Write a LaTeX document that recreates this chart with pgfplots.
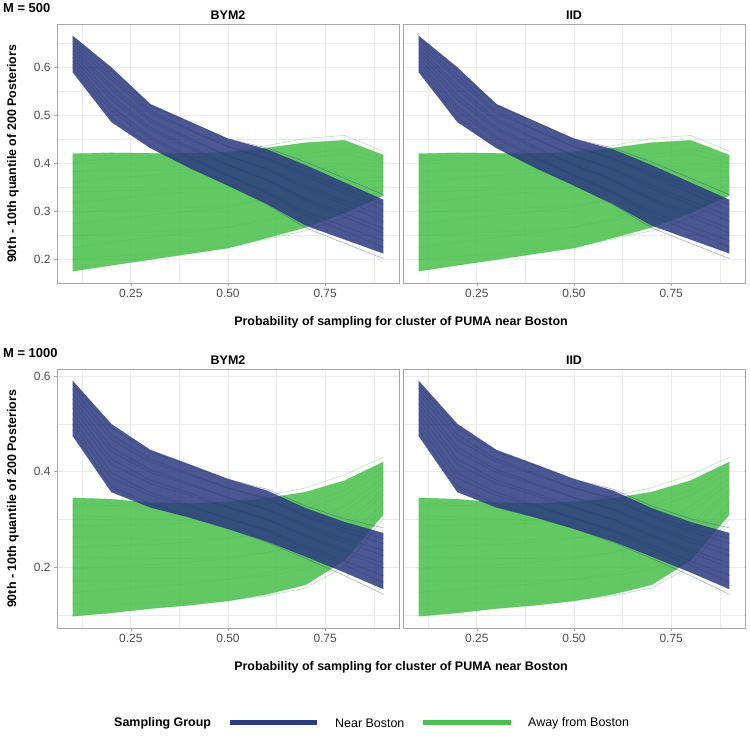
\documentclass[border=0pt]{standalone}
\usepackage{fontspec}
\setmainfont{Liberation Sans}
\usepackage{pgfplots}
\pgfplotsset{compat=1.18}
\usepackage{pgfplotstable}
\usepgfplotslibrary{fillbetween}

\definecolor{nearc}{HTML}{2C3B7F}
\definecolor{awayc}{HTML}{4CC04F}
\definecolor{grid92}{HTML}{EBEBEB}
\definecolor{framec}{HTML}{A6A6A6}
\definecolor{tick30}{HTML}{4D4D4D}

% M = 500, near Boston
\pgfplotstableread{
x l1 l2 l3 l4 l5 l6 l7 l8 l9 l10 l11 l12
0.1 .590 .598 .605 .613 .620 .628 .634 .640 .647 .654 .660 .665
0.2 .486 .495 .509 .518 .532 .541 .553 .561 .574 .582 .593 .599
0.3 .432 .437 .451 .456 .470 .475 .487 .492 .504 .509 .520 .523
0.4 .391 .394 .411 .414 .431 .435 .450 .453 .469 .471 .486 .487
0.5 .354 .355 .375 .375 .396 .397 .415 .416 .434 .435 .451 .451
0.6 .316 .315 .341 .338 .366 .365 .389 .387 .411 .409 .432 .429
0.7 .271 .266 .299 .292 .327 .323 .354 .348 .379 .374 .403 .396
0.8 .242 .234 .269 .259 .296 .289 .322 .314 .347 .338 .369 .360
0.9 .213 .202 .239 .226 .265 .255 .290 .279 .314 .303 .335 .324
}\tna
% M = 500, away from Boston
\pgfplotstableread{
x l1 l2 l3 l4 l5 l6 l7 l8 l9 l10 l11 l12
0.1 .176 .200 .225 .249 .274 .298 .318 .340 .361 .383 .403 .420
0.2 .188 .207 .236 .254 .283 .302 .326 .343 .369 .386 .410 .422
0.3 .200 .212 .246 .257 .292 .305 .334 .345 .375 .386 .414 .421
0.4 .212 .219 .256 .262 .300 .308 .341 .347 .381 .387 .418 .421
0.5 .224 .226 .267 .267 .309 .313 .350 .351 .389 .390 .424 .423
0.6 .245 .243 .287 .282 .327 .326 .365 .362 .403 .399 .437 .432
0.7 .267 .260 .307 .297 .346 .340 .383 .376 .419 .412 .452 .443
0.8 .297 .287 .332 .319 .366 .357 .399 .388 .430 .420 .458 .448
0.9 .333 .325 .353 .343 .372 .365 .391 .383 .409 .401 .425 .417
}\taa
% M = 1000, near Boston
\pgfplotstableread{
x l1 l2 l3 l4 l5 l6 l7 l8 l9 l10 l11 l12
0.1 .475 .487 .498 .510 .521 .533 .542 .552 .562 .573 .582 .590
0.2 .357 .369 .386 .397 .415 .426 .441 .451 .467 .477 .491 .499
0.3 .325 .332 .350 .356 .375 .382 .398 .404 .420 .426 .441 .445
0.4 .304 .307 .327 .330 .350 .355 .372 .375 .393 .396 .413 .415
0.5 .280 .281 .302 .302 .324 .326 .345 .346 .365 .366 .384 .384
0.6 .254 .252 .278 .275 .300 .300 .322 .320 .344 .342 .363 .360
0.7 .222 .218 .245 .239 .267 .264 .289 .284 .309 .305 .328 .323
0.8 .189 .182 .213 .204 .236 .230 .259 .252 .281 .274 .301 .294
0.9 .154 .143 .182 .168 .208 .199 .235 .224 .260 .249 .282 .271
}\tnb
% M = 1000, away from Boston
\pgfplotstableread{
x l1 l2 l3 l4 l5 l6 l7 l8 l9 l10 l11 l12
0.1 .097 .122 .147 .171 .196 .221 .241 .263 .286 .308 .328 .345
0.2 .104 .123 .153 .171 .201 .220 .245 .262 .288 .305 .329 .342
0.3 .113 .125 .159 .171 .205 .218 .247 .258 .289 .300 .328 .335
0.4 .120 .127 .165 .171 .210 .218 .252 .257 .292 .298 .330 .333
0.5 .129 .131 .174 .174 .218 .221 .260 .261 .300 .301 .337 .336
0.6 .143 .140 .188 .182 .231 .230 .273 .269 .313 .309 .349 .344
0.7 .163 .156 .207 .196 .250 .244 .291 .283 .330 .322 .366 .357
0.8 .214 .202 .253 .238 .290 .280 .327 .315 .362 .350 .393 .381
0.9 .310 .300 .336 .323 .361 .352 .386 .375 .409 .399 .430 .420
}\tab

\pgfplotsset{
  layers/bands/.define layer set={axis background,axis grid,axis ticks,axis lines,
    axis tick labels,awayfill,pre main,nearfill,main,axis descriptions,axis foreground}{
    grid style={/pgfplots/on layer=axis grid},
    tick style={/pgfplots/on layer=axis ticks},
    axis line style={/pgfplots/on layer=axis lines},
    label style={/pgfplots/on layer=axis descriptions},
    title style={/pgfplots/on layer=axis descriptions},
    ticklabel style={/pgfplots/on layer=axis tick labels}},
  panel/.style={scale only axis,width=342bp,height=259bp,anchor=south west,
    set layers=bands,
    xmin=0.06,xmax=0.94,xtick={0.25,0.5,0.75},xticklabels={0.25,0.50,0.75},
    minor xtick={0.125,0.375,0.625,0.875},
    grid=both,major grid style={grid92,line width=0.7bp},minor grid style={grid92,line width=0.4bp},
    axis line style={framec,line width=0.8bp},
    tick style={framec,line width=0.6bp},tick align=outside,
    major tick length=3bp,minor tick length=0pt,
    xtick pos=bottom,ytick pos=left,
    ticklabel style={font=\fontsize{12}{14}\selectfont,text=tick30},
    /pgf/number format/assume math mode=true},
  toprow/.style={ymin=0.1515,ymax=0.6895,ytick={0.2,0.3,0.4,0.5,0.6},
    minor ytick={0.15,0.25,0.35,0.45,0.55,0.65}},
  botrow/.style={ymin=0.0725,ymax=0.6145,ytick={0.2,0.4,0.6},minor ytick={0.1,0.3,0.5}},
  leftp/.style={yticklabels={0.2,0.3,0.4,0.5,0.6}},
  leftq/.style={yticklabels={0.2,0.4,0.6}},
  rightp/.style={yticklabels={},ytick style={draw=none}},
  nearline/.style={nearc,line width=0.6bp,opacity=0.4,forget plot},
  awayline/.style={awayc,line width=0.6bp,opacity=0.4,forget plot,on layer=pre main},
}

\newcommand{\panel}[4]{%
\begin{axis}[panel,at={#1},#4]
\addplot[name path=a1,draw=none,forget plot] table[x=x,y=l1]{#3};
\addplot[name path=a2,draw=none,forget plot] table[x=x,y=l12]{#3};
\addplot[awayc,fill opacity=0.88,forget plot] fill between[of=a1 and a2,on layer=awayfill];
\pgfplotsinvokeforeach{1,...,12}{\addplot[awayline] table[x=x,y=l##1]{#3};}
\addplot[name path=n1,draw=none,forget plot] table[x=x,y=l1]{#2};
\addplot[name path=n2,draw=none,forget plot] table[x=x,y=l12]{#2};
\addplot[nearc,fill opacity=0.86,forget plot] fill between[of=n1 and n2,on layer=nearfill];
\pgfplotsinvokeforeach{1,...,12}{\addplot[nearline] table[x=x,y=l##1]{#2};}
\end{axis}}

\begin{document}
\begin{tikzpicture}
\path (0,0) rectangle (750bp,736bp);

\panel{(57bp,453bp)}{\tna}{\taa}{toprow,leftp}
\panel{(403bp,453bp)}{\tna}{\taa}{toprow,rightp}
\panel{(57bp,108bp)}{\tnb}{\tab}{botrow,leftq}
\panel{(403bp,108bp)}{\tnb}{\tab}{botrow,rightp}

\begin{scope}[every node/.style={font=\bfseries\fontsize{12.5}{15}\selectfont,inner sep=0pt}]
\node[anchor=west,font=\bfseries\fontsize{13}{15}\selectfont] at (3bp,728bp) {M = 500};
\node at (228bp,721bp) {BYM2};
\node at (574bp,721bp) {IID};
\node at (401bp,414bp) {Probability of sampling for cluster of PUMA near Boston};
\node[rotate=90] at (13bp,582bp) {90th - 10th quantile of 200 Posteriors};
\node[anchor=west,font=\bfseries\fontsize{13}{15}\selectfont] at (3bp,383bp) {M = 1000};
\node at (228bp,376bp) {BYM2};
\node at (574bp,376bp) {IID};
\node at (401bp,69bp) {Probability of sampling for cluster of PUMA near Boston};
\node[rotate=90] at (13bp,237bp) {90th - 10th quantile of 200 Posteriors};
\node[anchor=west] at (114bp,13bp) {Sampling Group};
\end{scope}
\draw[nearc,line width=5bp] (230bp,13bp) -- (317bp,13bp);
\draw[awayc,line width=5bp] (423bp,13bp) -- (511bp,13bp);
\node[anchor=west,inner sep=0pt,font=\fontsize{12.5}{15}\selectfont] at (335bp,13bp) {Near Boston};
\node[anchor=west,inner sep=0pt,font=\fontsize{12.5}{15}\selectfont] at (528bp,13bp) {Away from Boston};
\end{tikzpicture}
\end{document}
